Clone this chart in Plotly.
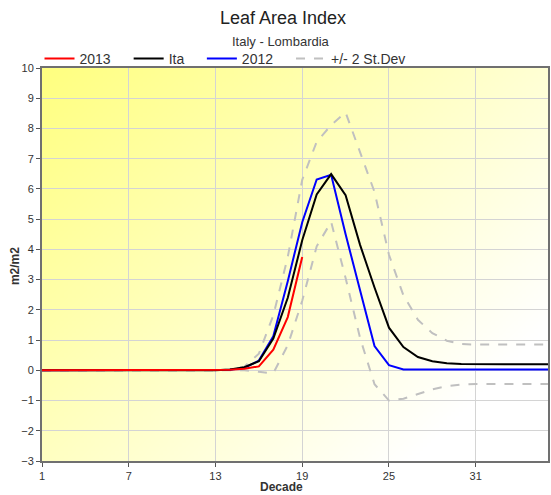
import base64
import struct
import zlib
import plotly.graph_objects as go

# decades 1..36
decade = list(range(1, 37))

# 2013 (only up to decade 19)
lai_2013 = [0.0] * 13 + [0.02, 0.05, 0.13, 0.68, 1.76, 3.75]

# Ita (mean)
lai_ita = [0.0] * 13 + [0.03, 0.1, 0.3, 1.05, 2.4, 4.3, 5.82, 6.49, 5.79, 4.15,
                        2.74, 1.41, 0.77, 0.44, 0.3, 0.23, 0.21, 0.2, 0.2, 0.2,
                        0.2, 0.2, 0.2, 0.2]

# 2012
lai_2012 = [0.0] * 13 + [0.02, 0.08, 0.32, 1.13, 2.95, 4.9, 6.31, 6.47, 4.5, 2.65,
                         0.8, 0.17, 0.03, 0.03, 0.03, 0.03, 0.03, 0.03, 0.03, 0.03,
                         0.03, 0.03, 0.03, 0.03]

# +/- 2 st.dev
upper = [0.0] * 13 + [0.03, 0.12, 0.55, 1.82, 3.75, 6.3, 7.56, 8.11, 8.53, 7.23,
                      5.9, 3.82, 2.48, 1.67, 1.23, 0.98, 0.87, 0.85, 0.85, 0.85,
                      0.85, 0.85, 0.85, 0.85]
lower = [0.0] * 13 + [0.0, 0.0, -0.05, -0.1, 0.83, 2.3, 4.1, 4.91, 3.05, 1.07,
                      -0.46, -1.0, -0.94, -0.79, -0.63, -0.52, -0.47, -0.45, -0.45, -0.45,
                      -0.45, -0.45, -0.45, -0.45]

x_ticks = [1, 7, 13, 19, 25, 31]
y_ticks = list(range(-3, 11))

PLOT_L, PLOT_W, PLOT_T, PLOT_H = 42, 508, 68, 393


def px_x(p):
    return (p - PLOT_L) / PLOT_W


def px_y(p):
    return 1 - (p - PLOT_T) / PLOT_H


def gradient_png(w, h):
    # diagonal yellow -> white, top-left to bottom-right
    rows = []
    for j in range(h):
        row = bytearray([0])
        for i in range(w):
            t = (i / (w - 1) * PLOT_W + j / (h - 1) * PLOT_H) / (PLOT_W + PLOT_H)
            b = int(round(128 + 127 * min(1.0, t / 0.85)))
            row += bytes([255, 255, b])
        rows.append(bytes(row))

    def chunk(tag, data):
        return (struct.pack(">I", len(data)) + tag + data
                + struct.pack(">I", zlib.crc32(tag + data) & 0xffffffff))

    png = (b"\x89PNG\r\n\x1a\n"
           + chunk(b"IHDR", struct.pack(">IIBBBBB", w, h, 8, 2, 0, 0, 0))
           + chunk(b"IDAT", zlib.compress(b"".join(rows)))
           + chunk(b"IEND", b""))
    return "data:image/png;base64," + base64.b64encode(png).decode()


fig = go.Figure()

fig.add_trace(go.Scatter(x=decade, y=upper, mode="lines", name="+/- 2 St.Dev",
                         line=dict(color="#c0c0c0", width=2, dash="dash"),
                         legend="legend4"))
fig.add_trace(go.Scatter(x=decade, y=lower, mode="lines", showlegend=False,
                         line=dict(color="#c0c0c0", width=2, dash="dash")))
fig.add_trace(go.Scatter(x=decade, y=lai_2012, mode="lines", name="2012",
                         line=dict(color="#0000ff", width=2), legend="legend3"))
fig.add_trace(go.Scatter(x=decade, y=lai_ita, mode="lines", name="Ita",
                         line=dict(color="#000000", width=2), legend="legend2"))
fig.add_trace(go.Scatter(x=decade[:len(lai_2013)], y=lai_2013, mode="lines", name="2013",
                         line=dict(color="#ff0000", width=2), legend="legend"))

axis_font = dict(family="Liberation Sans, Arial, sans-serif", size=11, color="#333333")


def legend_at(line_center):
    return dict(orientation="h", x=px_x(line_center - 22), xanchor="left",
                y=px_y(68 + 7), yanchor="bottom",
                font=dict(size=14, color="#333333"), bgcolor="rgba(0,0,0,0)")


fig.update_layout(
    width=551, height=495,
    margin=dict(l=42, r=1, t=68, b=34),
    paper_bgcolor="white",
    plot_bgcolor="white",
    font=dict(family="Liberation Sans, Arial, sans-serif", color="#222222"),
    title=dict(text="Leaf Area Index", x=283 / 551, xanchor="center", y=1 - 18 / 495,
               yanchor="middle", font=dict(size=18, color="#222222")),
    showlegend=True,
    legend=legend_at(61.5),
    legend2=legend_at(151),
    legend3=legend_at(224.5),
    legend4=legend_at(314),
    images=[dict(source=gradient_png(128, 100), xref="paper", yref="paper",
                 x=0, y=1, sizex=1, sizey=1, sizing="stretch", layer="below")],
    annotations=[
        dict(text="Italy - Lombardia", xref="paper", yref="paper",
             x=px_x(282), y=px_y(41), xanchor="center", yanchor="middle",
             showarrow=False, font=dict(size=13, color="#333333")),
        dict(text="<b>Decade</b>", xref="paper", yref="paper",
             x=px_x(282), y=px_y(487), xanchor="center", yanchor="middle",
             showarrow=False, font=dict(size=12, color="#333333")),
        dict(text="<b>m2/m2</b>", xref="paper", yref="paper", textangle=-90,
             x=px_x(15), y=px_y(266), xanchor="center", yanchor="middle",
             showarrow=False, font=dict(size=12, color="#333333")),
    ],
)

fig.update_xaxes(range=[1, 36], tickvals=x_ticks, showgrid=True, gridcolor="#d4d4d4",
                 gridwidth=1, zeroline=False, showline=True, linecolor="#707070",
                 linewidth=2, mirror=True, ticks="outside", ticklen=4, tickcolor="#555555",
                 tickfont=axis_font)
fig.update_yaxes(range=[-3, 10], tickvals=y_ticks, showgrid=True, gridcolor="#d4d4d4",
                 gridwidth=1, zeroline=False, showline=True, linecolor="#707070",
                 linewidth=2, mirror=True, ticks="outside", ticklen=4, tickcolor="#555555",
                 tickfont=axis_font)

# page body has a default 8px margin; drop it so the figure sits at the corner
fig.write_html("out.html", config={"displayModeBar": False},
               post_script="document.body.style.margin='0px';")
